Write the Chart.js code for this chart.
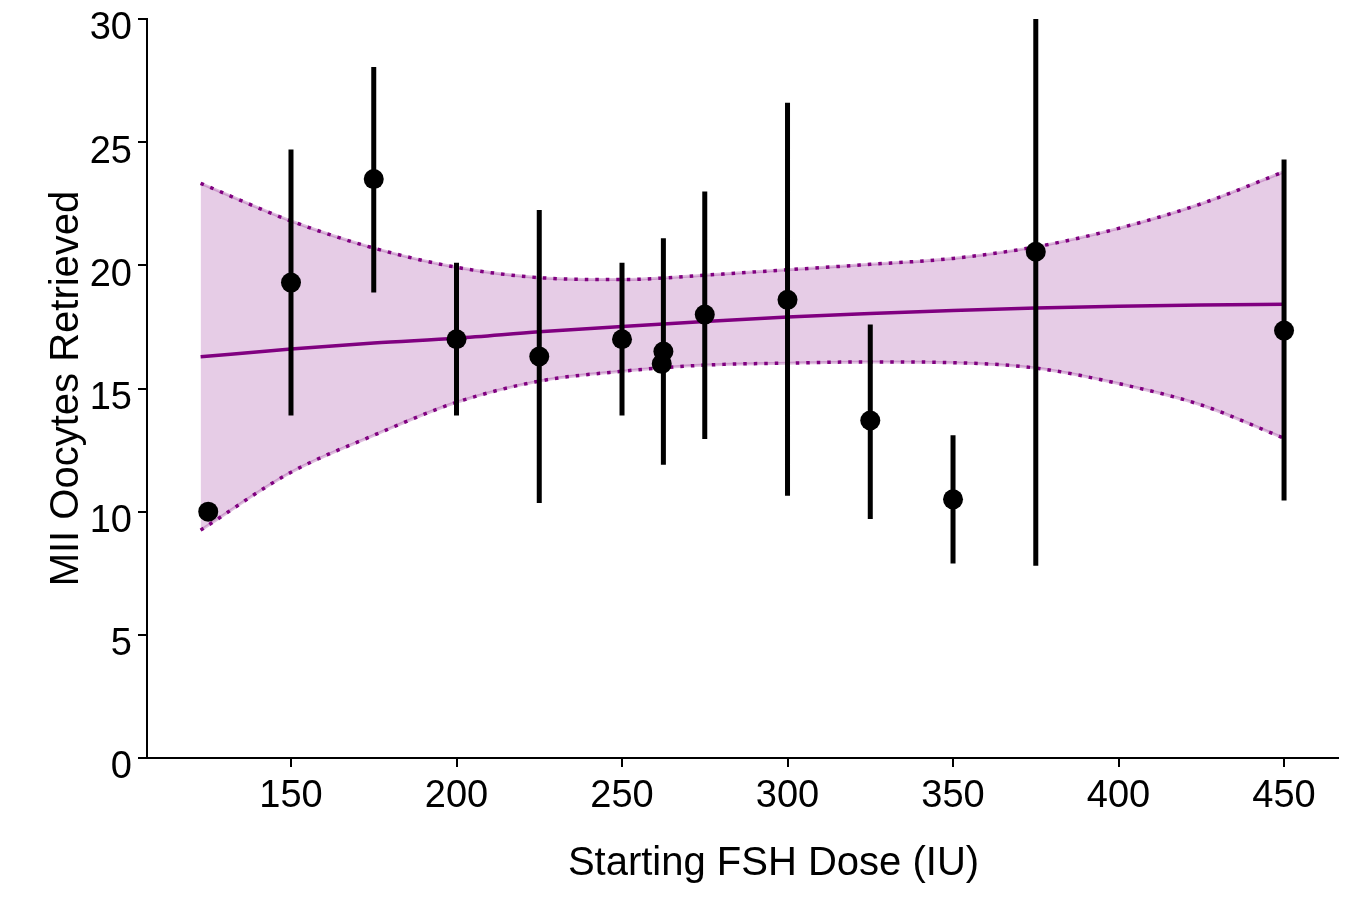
<!DOCTYPE html>
<html>
<head>
<meta charset="utf-8">
<script src="https://cdn.jsdelivr.net/npm/chart.js@4"></script>
<style>
  body { margin: 0; background: white; }
  #contenedor { width: 1350px; height: 897px; }
</style>
</head>
<body>
<div id="contenedor"><canvas id="grafico"></canvas></div>
<script>
// datos
const dosis = [125, 150, 175, 200, 225, 250, 262.5, 262, 275, 300, 325, 350, 375, 450];
const ovocitosMII = [10.0, 19.3, 23.5, 17.0, 16.3, 17.0, 16.5, 16.0, 18.0, 18.6, 13.7, 10.5, 20.55, 17.35];
const errorInf = [null, 13.9, 18.9, 13.9, 10.35, 13.9, 11.9, null, 12.95, 10.65, 9.7, 7.9, 7.8, 10.45];
const errorSup = [null, 24.7, 28.05, 20.1, 22.25, 20.1, 21.1, null, 23.0, 26.6, 17.6, 13.1, 30, 24.3];

// curva ajustada y banda de confianza
const ajusteX = [122.7, 150, 175, 200, 225, 250, 275, 300, 325, 350, 375, 400, 425, 450];
const ajuste = [16.29, 16.6, 16.85, 17.04, 17.3, 17.52, 17.72, 17.9, 18.04, 18.17, 18.27, 18.34, 18.39, 18.42];
const bandaSup = [23.33, 21.8, 20.7, 19.92, 19.5, 19.42, 19.6, 19.82, 20.04, 20.28, 20.75, 21.5, 22.5, 23.8];
const bandaInf = [9.25, 11.6, 13.1, 14.44, 15.3, 15.7, 15.95, 16.03, 16.08, 16.05, 15.83, 15.2, 14.33, 12.98];

const ticksX = [150, 200, 250, 300, 350, 400, 450];
const ticksY = [0, 5, 10, 15, 20, 25, 30];

const morado = '#800080';
const fuente = '"Liberation Sans", Arial, sans-serif';

function puntos(xs, ys) {
    return xs.map((x, i) => ({ x: x, y: ys[i] }));
}

function barrasDeError() {
    const segmentos = [];
    dosis.forEach((d, i) => {
        if (errorInf[i] === null) return;
        segmentos.push({ x: d, y: errorInf[i] }, { x: d, y: errorSup[i] }, { x: d, y: null });
    });
    return segmentos;
}

// titulo del eje x, algo corrido a la derecha como en el original
const tituloX = {
    id: 'tituloX',
    afterDraw(chart) {
        const { ctx, chartArea } = chart;
        ctx.save();
        ctx.font = '40px ' + fuente;
        ctx.fillStyle = 'black';
        ctx.textAlign = 'center';
        ctx.textBaseline = 'middle';
        ctx.fillText('Starting FSH Dose (IU)', (chartArea.left + chartArea.right) / 2 + 31, 864);
        ctx.restore();
    }
};

function generarGrafico() {
    const ctx = document.getElementById('grafico').getContext('2d');

    new Chart(ctx, {
        type: 'line',
        data: {
            datasets: [
                {
                    data: puntos(dosis, ovocitosMII),
                    showLine: false,
                    pointRadius: 10,
                    pointBackgroundColor: 'black',
                    pointBorderWidth: 0
                },
                {
                    data: barrasDeError(),
                    borderColor: 'black',
                    borderWidth: 5,
                    borderCapStyle: 'butt',
                    pointRadius: 0,
                    spanGaps: false
                },
                {
                    data: puntos(ajusteX, ajuste),
                    borderColor: morado,
                    borderWidth: 3.5,
                    pointRadius: 0,
                    cubicInterpolationMode: 'monotone'
                },
                {
                    data: puntos(ajusteX, bandaSup),
                    borderColor: morado,
                    borderWidth: 3.5,
                    borderDash: [3.5, 7],
                    pointRadius: 0,
                    cubicInterpolationMode: 'monotone',
                    fill: '+1',
                    backgroundColor: 'rgba(128, 0, 128, 0.2)'
                },
                {
                    data: puntos(ajusteX, bandaInf),
                    borderColor: morado,
                    borderWidth: 3.5,
                    borderDash: [3.5, 7],
                    pointRadius: 0,
                    cubicInterpolationMode: 'monotone'
                },
                // borde tenue de la banda bajo los puntitos
                {
                    data: puntos(ajusteX, bandaSup),
                    borderColor: 'rgba(128, 0, 128, 0.25)',
                    borderWidth: 3,
                    pointRadius: 0,
                    cubicInterpolationMode: 'monotone'
                },
                {
                    data: puntos(ajusteX, bandaInf),
                    borderColor: 'rgba(128, 0, 128, 0.25)',
                    borderWidth: 3,
                    pointRadius: 0,
                    cubicInterpolationMode: 'monotone'
                }
            ]
        },
        options: {
            responsive: true,
            maintainAspectRatio: false,
            animation: false,
            layout: { padding: { top: 19, right: 12, bottom: 0, left: 0 } },
            plugins: {
                legend: { display: false },
                tooltip: { enabled: false }
            },
            scales: {
                x: {
                    type: 'linear',
                    min: 106.5,
                    max: 466.3,
                    afterBuildTicks: function(scale) {
                        scale.ticks = ticksX.map(v => ({ value: v }));
                    },
                    afterFit: function(scale) {
                        scale.height = 139;
                        scale.paddingLeft = 0;
                        scale.paddingRight = 0;
                    },
                    border: { display: true, color: 'black', width: 2 },
                    grid: { drawOnChartArea: false, drawTicks: true, tickLength: 9, color: 'black', lineWidth: 2 },
                    ticks: {
                        color: 'black',
                        padding: 7,
                        maxRotation: 0,
                        font: { family: fuente, size: 38 }
                    },
                    title: { display: false }
                },
                y: {
                    min: 0,
                    max: 30,
                    afterBuildTicks: function(scale) {
                        scale.ticks = ticksY.map(v => ({ value: v }));
                    },
                    afterFit: function(scale) {
                        scale.width = 147;
                        scale.paddingTop = 0;
                        scale.paddingBottom = 0;
                    },
                    border: { display: true, color: 'black', width: 2 },
                    grid: { drawOnChartArea: false, drawTicks: true, tickLength: 9, color: 'black', lineWidth: 2 },
                    ticks: {
                        color: 'black',
                        padding: 6,
                        labelOffset: 10,
                        font: { family: fuente, size: 38 }
                    },
                    title: {
                        display: true,
                        text: 'MII Oocytes Retrieved',
                        color: 'black',
                        padding: { top: 43, bottom: 0 },
                        font: { family: fuente, size: 40 }
                    }
                }
            }
        },
        plugins: [tituloX]
    });
}

document.addEventListener('DOMContentLoaded', generarGrafico);
</script>
</body>
</html>
